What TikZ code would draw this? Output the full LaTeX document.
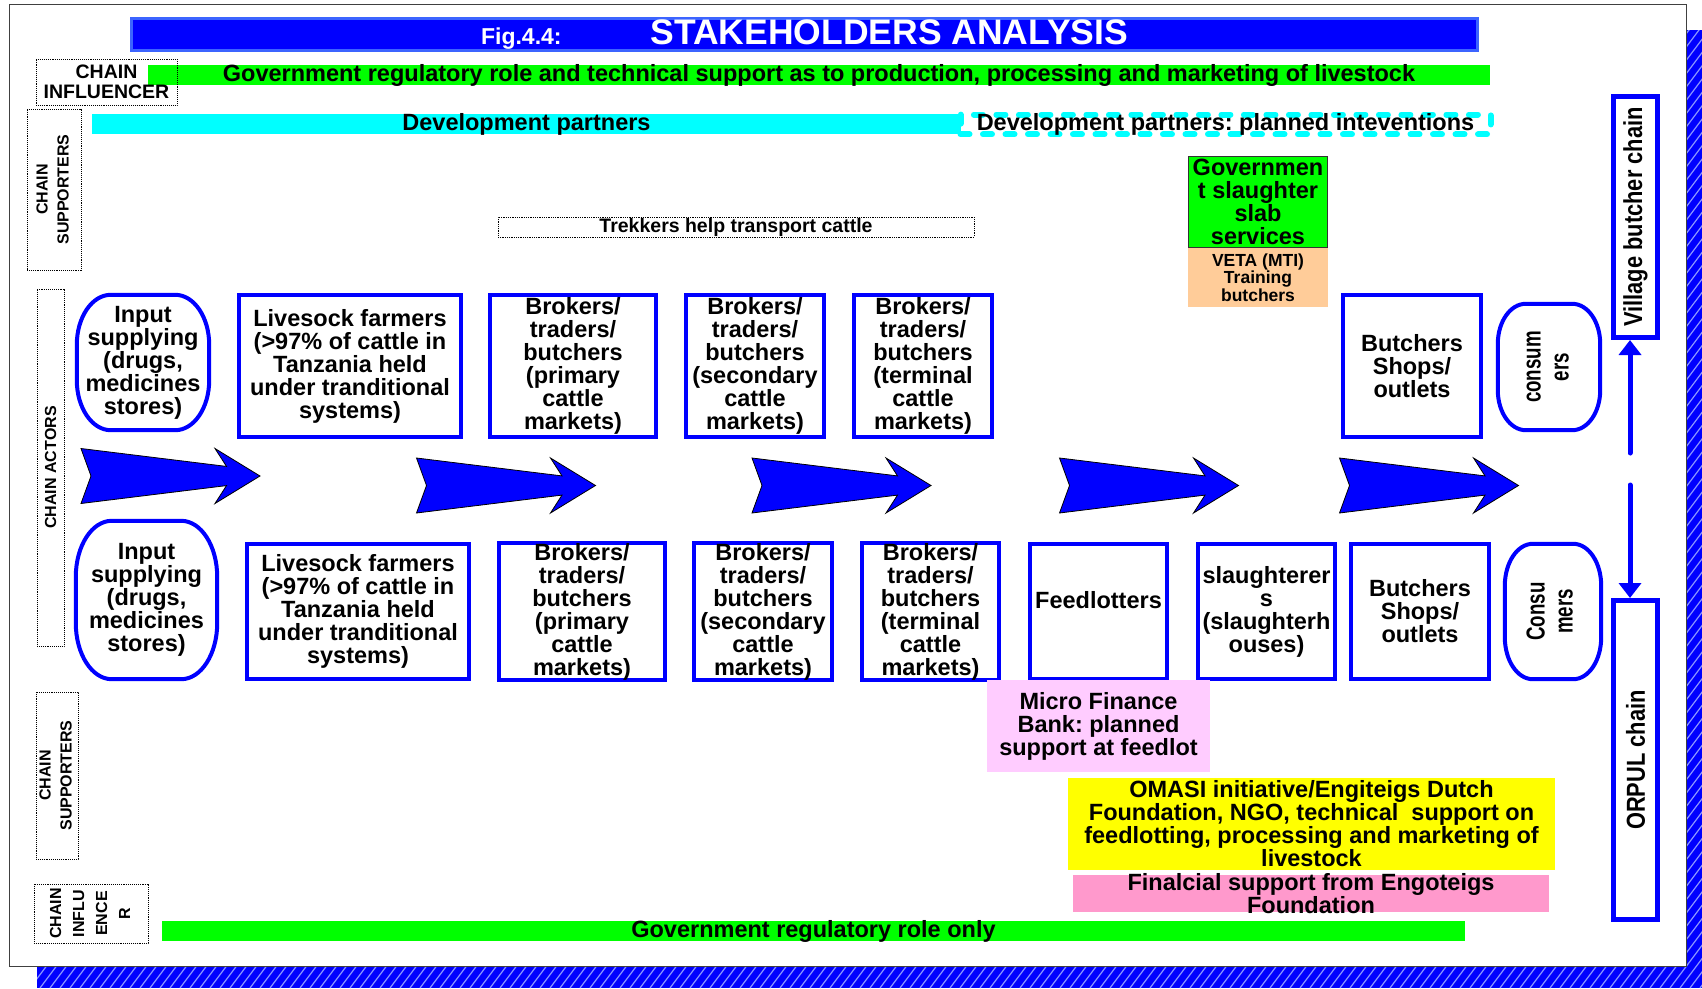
\documentclass[tikz,border=0pt]{standalone}
\usepackage{fontspec}
\setmainfont{Liberation Sans}
\usepackage{graphicx}
\usetikzlibrary{arrows.meta,positioning,calc}

\definecolor{barGreen}{RGB}{0,255,0}
\definecolor{barCyan}{RGB}{0,255,255}
\definecolor{barYellow}{RGB}{255,255,0}
\definecolor{microPink}{RGB}{255,204,255}
\definecolor{fundPink}{RGB}{255,153,204}
\definecolor{vetaPeach}{RGB}{255,204,153}
\definecolor{titleEdge}{RGB}{60,100,255}
\definecolor{hatchBlue}{RGB}{140,150,255}

% outline of the rounded actor nodes: node name, corner x radius, corner y radius
\newcommand{\pillshape}[3]{%
  \draw[blue, line width=4pt] ($(#1.north west)+(#2,0)$) -- ($(#1.north east)+(-#2,0)$)
    arc[start angle=90, end angle=0, x radius=#2pt, y radius=#3pt]
    -- ($(#1.south east)+(0,-#3)$)
    arc[start angle=0, end angle=-90, x radius=#2pt, y radius=#3pt]
    -- ($(#1.south west)+(#2,0)$)
    arc[start angle=270, end angle=180, x radius=#2pt, y radius=#3pt]
    -- ($(#1.north west)+(0,#3)$)
    arc[start angle=180, end angle=90, x radius=#2pt, y radius=#3pt] -- cycle;}

\begin{document}
\frenchspacing
\begin{tikzpicture}[x=1pt, y=-1pt,
        % Styles
        actor/.style={rectangle, draw=blue, line width=4pt, fill=white, align=center, inner sep=0pt, font=\fontsize{23.5}{23}\selectfont\bfseries},
        pillbox/.style={rectangle, inner sep=0pt, align=center, font=\fontsize{23.5}{23}\selectfont\bfseries},
        role/.style={rectangle, draw=black, densely dotted, line width=0.9pt, inner sep=0pt, align=center, font=\fontsize{16}{21}\selectfont\bfseries},
        band/.style={rectangle, inner xsep=0pt, inner ysep=-1pt, minimum height=20pt, align=center, font=\fontsize{23.5}{23}\selectfont\bfseries},
        helper/.style={rectangle, inner sep=0pt, align=center, font=\fontsize{23.5}{23}\selectfont\bfseries},
        chainbox/.style={rectangle, draw=blue, line width=5pt, fill=white, inner sep=0pt, font=\fontsize{26}{26}\selectfont\bfseries},
        flow/.style={blue, line width=5pt, line cap=round, -{Triangle[width=22pt,length=15pt]}},
        chevron/.pic={\filldraw[fill=blue, draw=black, line width=0.8pt]
            (-89.5,-27.5) -- (56,-9.6) -- (44.5,-27.5) -- (89.5,0) -- (44.5,27.5)
            -- (56,9.6) -- (-89.5,27.5) -- (-79.5,0) -- cycle;}
    ]
    \useasboundingbox (0,0) rectangle (1702,988);

    % Hatched shadow and frame
    \begin{scope}
        \clip (37,30) rectangle (1702,988);
        \fill[blue] (37,30) rectangle (1702,988);
        \foreach \i in {-700,-690,...,1710}
            \draw[hatchBlue, line width=1.2pt] (\i,988) -- ++(740,-986);
    \end{scope}
    \draw[black!75, line width=1pt, fill=white] (9,4) rectangle (1686,966);

    % Title
    \node (title) [fill=blue, draw=titleEdge, line width=3pt, minimum width=1346pt, minimum height=32pt, inner sep=0pt, text=white, font=\bfseries] at (804.5,34.5)
        {{\fontsize{23}{23}\selectfont Fig.4.4:}\hspace{89pt}{\fontsize{35.5}{36}\selectfont STAKEHOLDERS ANALYSIS}};

    % Chain influencer and supporters (top)
    \node (govtop) [band, fill=barGreen, minimum width=1342pt] at (819,75) {Government regulatory role and technical support as to production, processing and marketing of livestock};
    \node (inflTop) [role, font=\fontsize{19.5}{19.5}\selectfont\bfseries, minimum width=141pt, minimum height=46pt] at (106.5,82) {CHAIN\\INFLUENCER};
    \node (devp) [band, fill=barCyan, minimum width=869pt] at (526.5,124) {Development partners};
    \node (devplan) [band, draw=barCyan, line width=6pt, dash pattern=on 9pt off 13.5pt, line cap=round, minimum width=530pt, minimum height=19pt] at (1225.5,124.5) {Development partners: planned inteventions};
    \node (suppTop) [role, minimum width=54pt, minimum height=161pt] at (54,189.5) {\rotatebox{90}{\begin{tabular}{@{}c@{}}CHAIN\\SUPPORTERS\end{tabular}}};
    \node (trek) [band, draw=black, densely dotted, line width=0.8pt, inner ysep=0pt, font=\fontsize{19.5}{19.5}\selectfont\bfseries, minimum width=476pt] at (736,227) {Trekkers help transport cattle};
    \node (slab) [helper, fill=barGreen, draw=black!80, line width=1pt, minimum width=139pt, minimum height=91pt] at (1258,202) {Governmen\\t slaughter\\slab\\services};
    \node (veta) [helper, fill=vetaPeach, font=\fontsize{17.5}{17.5}\selectfont\bfseries, minimum width=140pt, minimum height=59pt, below=0pt of slab] {VETA (MTI)\\Training\\butchers};

    % Chain actors
    \node (actors) [role, minimum width=27pt, minimum height=357pt] at (50.5,467.5) {\rotatebox{90}{CHAIN ACTORS}};

    % Village butcher chain (top row)
    \node (in1) [pillbox, minimum width=132pt, minimum height=135pt] at (143,362.5) {Input\\supplying\\(drugs,\\medicines\\stores)};
    \pillshape{in1}{34}{50}
    \node (farm1) [actor, minimum width=222pt, minimum height=142pt] at (350,366) {Livesock farmers\\(>97\% of cattle in\\Tanzania held\\under tranditional\\systems)};
    \node (brk1a) [actor, minimum width=166pt, minimum height=142pt] at (573,366) {Brokers/\\traders/\\butchers\\(primary\\cattle\\markets)};
    \node (brk1b) [actor, minimum width=138pt, minimum height=142pt] at (755,366) {Brokers/\\traders/\\butchers\\(secondary\\cattle\\markets)};
    \node (brk1c) [actor, minimum width=138pt, minimum height=142pt] at (923,366) {Brokers/\\traders/\\butchers\\(terminal\\cattle\\markets)};
    \node (shop1) [actor, minimum width=138pt, minimum height=142pt] at (1412,366) {Butchers\\Shops/\\outlets};
    \node (cons1) [pillbox, minimum width=102pt, minimum height=126pt] at (1549,367)
        {\rotatebox{90}{\scalebox{0.72}[1]{\fontsize{26}{28}\selectfont\begin{tabular}{@{}c@{}}consum\\ers\end{tabular}}}};
    \pillshape{cons1}{28}{40}

    % Flow arrows
    \foreach \cx/\cy in {170.5/476, 506/485.5, 841.5/485.5, 1149/485.5, 1429/485.5}
        \pic at (\cx,\cy) {chevron};

    % ORPUL chain (bottom row)
    \node (in2) [pillbox, minimum width=141pt, minimum height=158pt] at (146.5,600) {Input\\supplying\\(drugs,\\medicines\\stores)};
    \pillshape{in2}{36}{56}
    \node (farm2) [actor, minimum width=222pt, minimum height=135pt] at (358,611.5) {Livesock farmers\\(>97\% of cattle in\\Tanzania held\\under tranditional\\systems)};
    \node (brk2a) [actor, minimum width=166pt, minimum height=135pt] at (582,611.5) {Brokers/\\traders/\\butchers\\(primary\\cattle\\markets)};
    \node (brk2b) [actor, minimum width=138pt, minimum height=135pt] at (763,611.5) {Brokers/\\traders/\\butchers\\(secondary\\cattle\\markets)};
    \node (brk2c) [actor, minimum width=137pt, minimum height=135pt] at (930.5,611.5) {Brokers/\\traders/\\butchers\\(terminal\\cattle\\markets)};
    \node (feed) [actor, minimum width=137pt, minimum height=135pt] at (1098.5,611.5) {Feedlotters\\\mbox{}};
    \node (slau) [actor, minimum width=137pt, minimum height=135pt] at (1266.5,611.5) {slaughterer\\s\\(slaughterh\\ouses)};
    \node (shop2) [actor, minimum width=138pt, minimum height=135pt] at (1420,611.5) {Butchers\\Shops/\\outlets};
    \node (cons2) [pillbox, minimum width=96pt, minimum height=135pt] at (1553,611.5)
        {\rotatebox{90}{\scalebox{0.72}[1]{\fontsize{26}{28}\selectfont\begin{tabular}{@{}c@{}}Consu\\mers\end{tabular}}}};
    \pillshape{cons2}{28}{42}

    % Chain supporters and influencer (bottom)
    \node (micro) [helper, fill=microPink, minimum width=223pt, minimum height=92pt] at (1098.5,726) {Micro Finance\\Bank: planned\\support at feedlot};
    \node (omasi) [helper, fill=barYellow, minimum width=487pt, minimum height=92pt] at (1311.5,824) {OMASI initiative/Engiteigs Dutch\\Foundation, NGO, technical\ \ support on\\feedlotting, processing and marketing of\\livestock};
    \node (fund) [helper, fill=fundPink, inner ysep=-3.5pt, minimum width=476pt, minimum height=37pt] at (1311,893.5) {Finalcial support from Engoteigs\\Foundation};
    \node (suppBot) [role, minimum width=38pt, minimum height=167pt] at (57,775.5) {\rotatebox{90}{\begin{tabular}{@{}c@{}}CHAIN\\SUPPORTERS\end{tabular}}};
    \node (govbot) [band, fill=barGreen, minimum width=1303pt] at (813.5,931) {Government regulatory role only};
    \node (inflBot) [role, font=\fontsize{16}{23}\selectfont\bfseries, minimum width=114pt, minimum height=59pt] at (91,913.5) {\rotatebox{90}{\begin{tabular}{@{}c@{}}CHAIN\\INFLU\\ENCE\\R\end{tabular}}};

    % Chain boxes on the right
    \node (village) [chainbox, minimum width=44pt, minimum height=241pt] at (1635.5,217) {\rotatebox{90}{\scalebox{0.84}[1]{Village butcher chain}}};
    \node (orpul) [chainbox, minimum width=44pt, minimum height=319pt] at (1635.5,760) {\rotatebox{90}{\scalebox{0.84}[1]{ORPUL chain}}};
    \coordinate (upfrom) at (1630,453);
    \coordinate (downfrom) at (1630,485);
    \draw[flow] (upfrom) -- (upfrom |- village.south);
    \draw[flow] (downfrom) -- (downfrom |- orpul.north);
\end{tikzpicture}
\end{document}
